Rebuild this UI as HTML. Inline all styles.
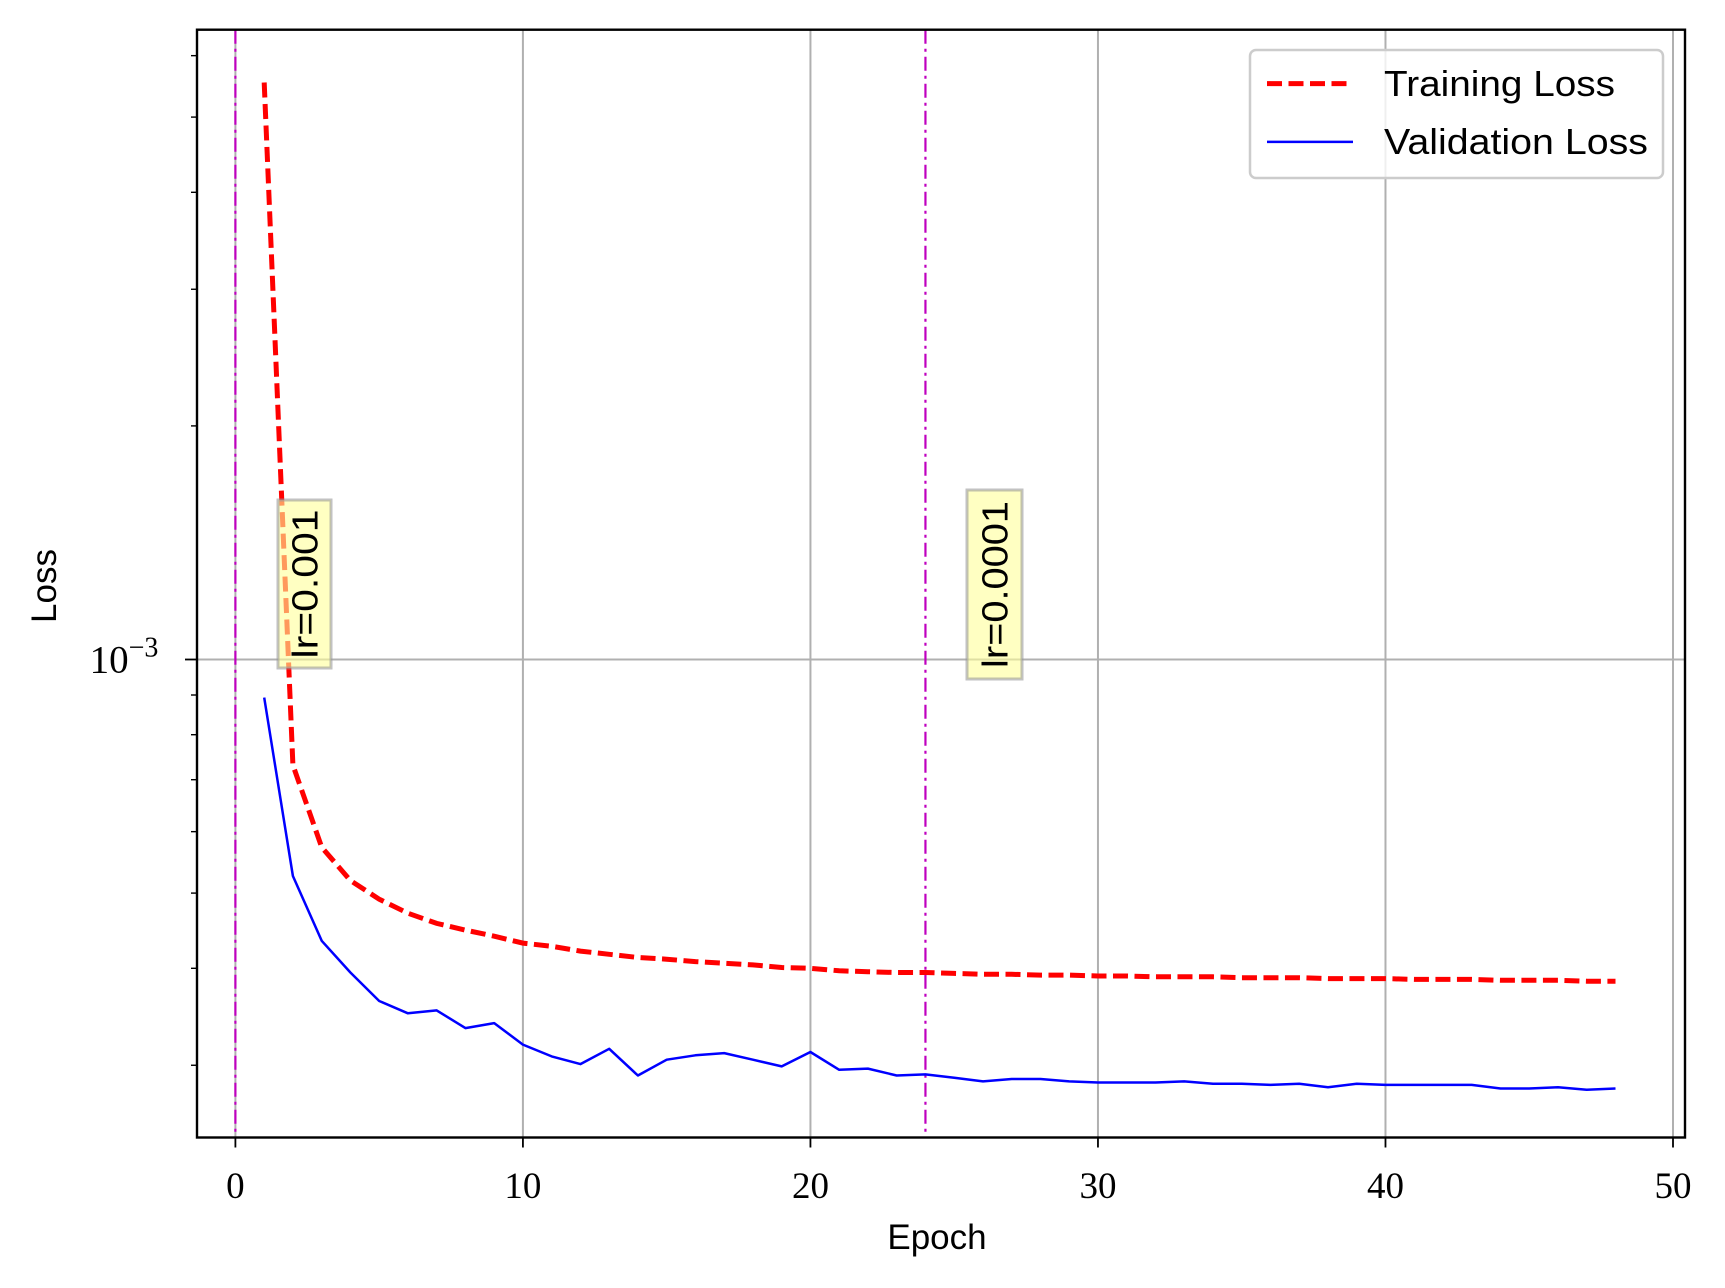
<!DOCTYPE html>
<html><head><meta charset="utf-8"><style>
html,body{margin:0;padding:0;background:#fff;}
svg{display:block;}
</style></head><body>
<svg id="chart" width="1725" height="1288" viewBox="0 0 1725 1288" xmlns="http://www.w3.org/2000/svg"></svg>
<script>
const epochs = [1,2,3,4,5,6,7,8,9,10,11,12,13,14,15,16,17,18,19,20,21,22,23,24,25,26,27,28,29,30,31,32,33,34,35,36,37,38,39,40,41,42,43,44,45,46,47,48];
const trainingLoss = [5.54e-3,7.31e-4,5.73e-4,5.19e-4,4.91e-4,4.71e-4,4.57e-4,4.48e-4,4.40e-4,4.31e-4,4.27e-4,4.21e-4,4.17e-4,4.13e-4,4.11e-4,4.08e-4,4.06e-4,4.04e-4,4.01e-4,4.00e-4,3.97e-4,3.96e-4,3.95e-4,3.95e-4,3.94e-4,3.93e-4,3.93e-4,3.92e-4,3.92e-4,3.91e-4,3.91e-4,3.90e-4,3.90e-4,3.90e-4,3.89e-4,3.89e-4,3.89e-4,3.88e-4,3.88e-4,3.88e-4,3.87e-4,3.87e-4,3.87e-4,3.86e-4,3.86e-4,3.86e-4,3.85e-4,3.85e-4];
const validationLoss = [8.93e-4,5.26e-4,4.34e-4,3.95e-4,3.63e-4,3.50e-4,3.53e-4,3.35e-4,3.40e-4,3.19e-4,3.08e-4,3.01e-4,3.15e-4,2.91e-4,3.05e-4,3.09e-4,3.11e-4,3.05e-4,2.99e-4,3.12e-4,2.96e-4,2.97e-4,2.91e-4,2.92e-4,2.89e-4,2.86e-4,2.88e-4,2.88e-4,2.86e-4,2.85e-4,2.85e-4,2.85e-4,2.86e-4,2.84e-4,2.84e-4,2.83e-4,2.84e-4,2.81e-4,2.84e-4,2.83e-4,2.83e-4,2.83e-4,2.83e-4,2.80e-4,2.80e-4,2.81e-4,2.79e-4,2.80e-4];
const xTicks = [0,10,20,30,40,50];
const yMinorTicks = [3e-4,4e-4,5e-4,6e-4,7e-4,8e-4,9e-4,2e-3,3e-3,4e-3,5e-3,6e-3];
const lrChanges = [0,24];
const lrLabels = ["lr=0.001","lr=0.0001"];

const NS="http://www.w3.org/2000/svg";
const svg=document.getElementById('chart');
const L=197,R=1685,T=29.7,B=1137.5;
const X0=235.4,X50=1673;
const Y3=659.5,DEC=776;
function xs(v){return X0+(X50-X0)*v/50;}
function ys(v){return Y3-Math.log10(v/1e-3)*DEC;}
function mk(tag,attrs,parent){const e=document.createElementNS(NS,tag);for(const k in attrs)e.setAttribute(k,attrs[k]);(parent||svg).appendChild(e);return e;}

xTicks.forEach(t=>{
  const g=mk('line',{x1:xs(t),x2:xs(t),y1:T,y2:B,stroke:'#b0b0b0','stroke-width':2});
  
  
});
const gy=mk('line',{x1:L,x2:R,y1:ys(1e-3),y2:ys(1e-3),stroke:'#b0b0b0','stroke-width':2});



lrChanges.forEach(e=>{
  const l=mk('line',{x1:xs(e),x2:xs(e),y1:T,y2:B,stroke:'#bf00bf','stroke-width':2.2,'stroke-dasharray':'14 5 3 5'});
  
  
});

function path(vals){return vals.map((v,i)=>(i?'L':'M')+xs(epochs[i]).toFixed(1)+' '+ys(v).toFixed(1)).join(' ');}
const tr=mk('path',{d:path(trainingLoss),fill:'none',stroke:'#ff0000','stroke-width':5,'stroke-dasharray':'15 6.5'});


const va=mk('path',{d:path(validationLoss),fill:'none',stroke:'#0000ff','stroke-width':2.5,'stroke-linejoin':'round'});



const boxes=[{x:278,y:500,w:53,h:168,tl:149},{x:967,y:490,w:55,h:189,tl:167}];
lrLabels.forEach((txt,i)=>{
  const b=boxes[i];
  const g=mk('g',{});
  
  
  mk('rect',{x:b.x,y:b.y,width:b.w,height:b.h,fill:'#ffff99','fill-opacity':0.6,stroke:'#999','stroke-opacity':0.6,'stroke-width':3},g);
  const cx=b.x+b.w/2+13, cy=b.y+b.h/2;
  const t=mk('text',{x:cx,y:cy,'font-family':'Liberation Sans, sans-serif','font-size':36,'text-anchor':'middle',textLength:b.tl,lengthAdjust:'spacingAndGlyphs',transform:`rotate(-90 ${cx} ${cy})`},g);
  t.textContent=txt;
});

const fr=mk('rect',{x:L,y:T,width:R-L,height:B-T,fill:'none',stroke:'#000','stroke-width':2.4});



xTicks.forEach(t=>{
  mk('line',{x1:xs(t),x2:xs(t),y1:B,y2:B+10,stroke:'#000','stroke-width':1.8});
  const lb=mk('text',{x:xs(t),y:1198,'font-family':'Liberation Serif, serif','font-size':37,'text-anchor':'middle'});
  
  
  lb.textContent=t;
});
yMinorTicks.forEach(v=>{ if(ys(v)>T&&ys(v)<B) mk('line',{x1:L-6,x2:L,y1:ys(v),y2:ys(v),stroke:'#000','stroke-width':1.4}); });
mk('line',{x1:L-12,x2:L,y1:ys(1e-3),y2:ys(1e-3),stroke:'#000','stroke-width':1.8});
const yl=mk('text',{x:124,y:ys(1e-3)+13,'font-family':'Liberation Serif, serif','font-size':39,'text-anchor':'middle'});


yl.innerHTML='10<tspan dy="-16" font-size="28">−3</tspan>';

const xt=mk('text',{x:937,y:1249,'font-family':'Liberation Sans, sans-serif','font-size':35,'text-anchor':'middle'});


xt.textContent='Epoch';
const yt=mk('text',{x:56,y:586,'font-family':'Liberation Sans, sans-serif','font-size':35,'text-anchor':'middle',transform:'rotate(-90 56 586)'});


yt.textContent='Loss';

const lg=mk('g',{});


mk('rect',{x:1250,y:50,width:413,height:128,rx:6,fill:'#fff','fill-opacity':0.8,stroke:'#ccc','stroke-width':2.5},lg);
const e1=mk('g',{},lg);


mk('line',{x1:1267,x2:1353,y1:83.6,y2:83.6,stroke:'#ff0000','stroke-width':5,'stroke-dasharray':'15 6.5'},e1);
const t1=mk('text',{x:1384,y:96,'font-family':'Liberation Sans, sans-serif','font-size':36,textLength:231,lengthAdjust:'spacingAndGlyphs'},e1);
t1.textContent='Training Loss';
const e2=mk('g',{},lg);


mk('line',{x1:1267,x2:1353,y1:141.9,y2:141.9,stroke:'#0000ff','stroke-width':2.5},e2);
const t2=mk('text',{x:1384,y:154,'font-family':'Liberation Sans, sans-serif','font-size':36,textLength:264,lengthAdjust:'spacingAndGlyphs'},e2);
t2.textContent='Validation Loss';
</script>
</body></html>
